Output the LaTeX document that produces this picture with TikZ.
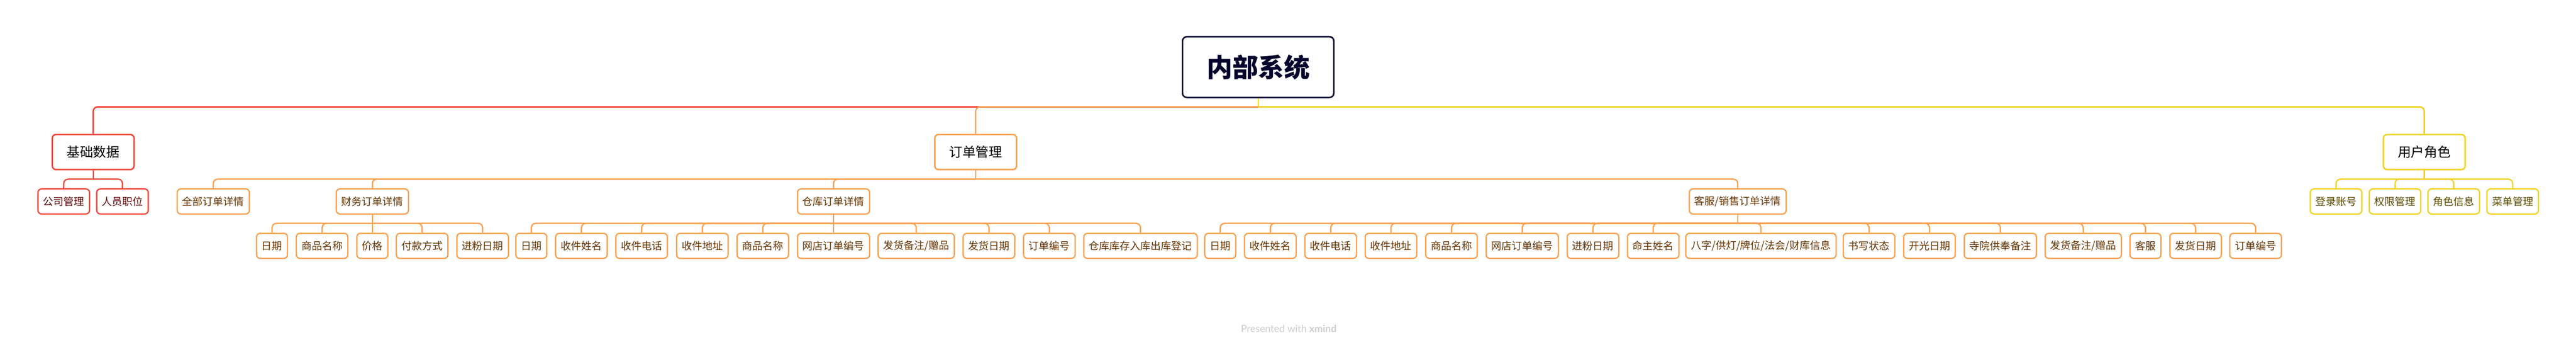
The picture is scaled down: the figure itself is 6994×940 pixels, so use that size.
\documentclass[tikz,border=0pt]{standalone}
\usepackage{fontspec}
\setmainfont{Noto Sans CJK SC}
\newfontfamily\footfont{Lato}
\usepackage{xcolor}
\usetikzlibrary{positioning, calc}

\definecolor{xred}{HTML}{F5453B}
\definecolor{xorange}{HTML}{F8A04E}
\definecolor{xyellow}{HTML}{F2D222}
\definecolor{xnavy}{HTML}{03032C}
\definecolor{redtxt}{HTML}{600A0A}
\definecolor{orangetxt}{HTML}{663300}
\definecolor{yellowtxt}{HTML}{5C4B00}

\begin{document}
\begin{tikzpicture}[x=1pt, y=-1pt,
  rootbox/.style={draw=xnavy, line width=4, rounded corners=12, fill=white, text=xnavy, minimum width=411, minimum height=165, font=\fontsize{70}{80}\selectfont\bfseries},
  mainbox/.style={line width=4, rounded corners=10, fill=white, text=black, minimum width=222, minimum height=95, font=\fontsize{36}{40}\selectfont},
  subbox/.style={line width=3.5, rounded corners=10, fill=white, minimum height=68, inner xsep=14, font=\fontsize{28}{32}\selectfont},
  leafR/.style={subbox, draw=xred, text=redtxt},
  leafO/.style={subbox, draw=xorange, text=orangetxt},
  leafY/.style={subbox, draw=xyellow, text=yellowtxt},
  lnR/.style={xred, line width=4, rounded corners=12},
  lnO/.style={xorange, line width=3.5, rounded corners=12},
  lnY/.style={xyellow, line width=4, rounded corners=12}]
\useasboundingbox (0,0) rectangle (6994,940);

% Root
\node[rootbox] (sys) at (3416,182) {内部系统};
\coordinate (sys-j) at (3416,290);

% Level 1
\node[mainbox, draw=xred] (base) at (253,412.5) {基础数据};
\node[mainbox, draw=xorange] (order) at (2649,412.5) {订单管理};
\node[mainbox, draw=xyellow] (user) at (6582,412.5) {用户角色};

\draw[xyellow, line width=3] (sys) -- (sys-j);
\draw[lnR] (sys-j) -| (base);
\draw[lnO] (sys-j) -| (order);
\draw[lnY] (sys-j) -| (user);

% Level 2
\node[leafR] (comp) at (173,546.5) {公司管理};
\node[leafR] (staff) at (332.5,546.5) {人员职位};

\node[leafO] (allord) at (579,546.5) {全部订单详情};
\node[leafO] (fin) at (1011,546.5) {财务订单详情};
\node[leafO] (ware) at (2263,546.5) {仓库订单详情};
\node[leafO] (sale) at (4718,546.5) {客服/销售订单详情};

\node[leafY] (login) at (6342.5,546.5) {登录账号};
\node[leafY] (perm) at (6502.5,546.5) {权限管理};
\node[leafY] (roleinfo) at (6662,546.5) {角色信息};
\node[leafY] (menu) at (6822,546.5) {菜单管理};

\coordinate (base-j) at (253,486);
\coordinate (order-j) at (2649,486);
\coordinate (user-j) at (6582,486);
\draw[lnR, line width=3.5] (base) -- (base-j);
\foreach \c in {comp, staff} \draw[lnR, line width=3.5] (base-j) -| (\c);
\draw[lnO] (order) -- (order-j);
\foreach \c in {allord, fin, ware, sale} \draw[lnO] (order-j) -| (\c);
\draw[lnY, line width=3.5] (user) -- (user-j);
\foreach \c in {login, perm, roleinfo, menu} \draw[lnY, line width=3.5] (user-j) -| (\c);

% Level 3 - finance
\foreach \x/\t [count=\i] in {738.5/日期, 874.5/商品名称, 1011/价格, 1146/付款方式, 1310.5/进粉日期}
  \node[leafO] (fin\i) at (\x,667) {\t};
\coordinate (fin-j) at (1011,606);
\draw[lnO] (fin) -- (fin-j);
\foreach \i in {1,...,5} \draw[lnO] (fin-j) -| (fin\i);

% Level 3 - warehouse
\foreach \x/\t [count=\i] in {1442.5/日期, 1578.5/收件姓名, 1742/收件电话, 1907/收件地址, 2071/商品名称,
  2263/网店订单编号, 2487.5/{发货备注/赠品}, 2685/发货日期, 2849/订单编号, 3096.5/仓库库存入库出库登记}
  \node[leafO] (ware\i) at (\x,667) {\t};
\coordinate (ware-j) at (2263,606);
\draw[lnO] (ware) -- (ware-j);
\foreach \i in {1,...,10} \draw[lnO] (ware-j) -| (ware\i);

% Level 3 - sales
\foreach \x/\t [count=\i] in {3313/日期, 3449/收件姓名, 3613/收件电话, 3776.5/收件地址, 3941/商品名称,
  4133/网店订单编号, 4325/进粉日期, 4488.5/命主姓名, 4781/{八字/供灯/牌位/法会/财库信息}, 5074.5/书写状态,
  5238.5/开光日期, 5431/寺院供奉备注, 5656/{发货备注/赠品}, 5825/客服, 5961/发货日期, 6124/订单编号}
  \node[leafO] (sale\i) at (\x,667) {\t};
\coordinate (sale-j) at (4718,606);
\draw[lnO] (sale) -- (sale-j);
\foreach \i in {1,...,16} \draw[lnO] (sale-j) -| (sale\i);

% Footer
\node[text=black!20, font=\footfont\fontsize{27}{30}\selectfont] (credit) at (3499,891) {Presented with \textbf{xmind}};
\end{tikzpicture}
\end{document}
